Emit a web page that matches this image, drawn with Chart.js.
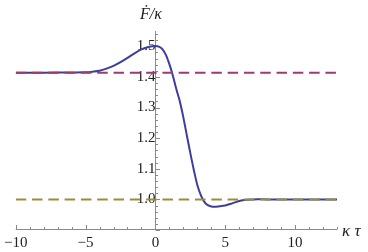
<!DOCTYPE html>
<html>
<head>
<meta charset="utf-8">
<script src="https://cdn.jsdelivr.net/npm/chart.js@4/dist/chart.umd.min.js"></script>
<style>
  html, body { margin: 0; padding: 0; background: #ffffff; }
  #wrap { width: 368px; height: 252px; position: relative; }
</style>
</head>
<body>
<div id="wrap"><canvas id="fluxChart"></canvas></div>
<script>
// kappa*tau samples and the F-dot/kappa curve
const tauValues = [-10, -8, -6, -5, -4.5, -4, -3.5, -3, -2.5, -2, -1.5, -1, -0.5, 0, 0.25, 0.5, 0.75, 1, 1.25, 1.5, 1.75, 2, 2.25, 2.5, 2.75, 3, 3.25, 3.5, 3.75, 4, 4.25, 4.5, 5, 5.5, 6, 6.5, 7, 8, 10, 13];
const fluxValues = [1.414, 1.414, 1.4145, 1.415, 1.417, 1.42, 1.427, 1.436, 1.448, 1.462, 1.477, 1.49, 1.498, 1.501, 1.499, 1.491, 1.472, 1.442, 1.404, 1.36, 1.32, 1.268, 1.209, 1.151, 1.096, 1.047, 1.014, 0.992, 0.981, 0.977, 0.976, 0.977, 0.98, 0.987, 0.995, 0.999, 1.0, 1.0, 1.0, 1.0];

// the two reference levels (dashed)
const levelSpan = [-10, 13];
const upperLevel = 1.414;
const lowerLevel = 1.0;

// tick labels
const xTickLabels = [-10, -5, 0, 5, 10];
const yTickLabels = [1.0, 1.1, 1.2, 1.3, 1.4, 1.5];

document.addEventListener('DOMContentLoaded', () => {
    const serif = '"Liberation Serif", "DejaVu Serif", serif';
    const axisGray = '#8a8a8a';

    // Mathematica style axes: lines crossing at (0, 0.9), inward ticks
    const axisFrame = {
        id: 'axisFrame',
        beforeDatasetsDraw(chart) {
            const { ctx, scales: { x, y } } = chart;
            const ax = Math.round(x.getPixelForValue(0)) + 0.5;
            const ay = Math.round(y.getPixelForValue(0.9)) - 0.5;
            ctx.save();
            ctx.strokeStyle = axisGray;
            ctx.lineWidth = 1;
            ctx.beginPath();
            ctx.moveTo(x.left, ay);
            ctx.lineTo(x.right, ay);
            ctx.moveTo(ax, y.bottom);
            ctx.lineTo(ax, y.top);
            // x ticks, every unit, long on multiples of 5
            for (let v = -10; v <= 13; v++) {
                const px = Math.round(x.getPixelForValue(v)) + 0.5;
                const len = v % 5 === 0 ? 4.5 : 2.5;
                ctx.moveTo(px, ay);
                ctx.lineTo(px, ay - len);
            }
            // y ticks, every 0.02, long on tenths
            for (let i = 0; i <= 32; i++) {
                const v = 0.9 + i * 0.02;
                const py = Math.round(y.getPixelForValue(v)) + 0.5;
                const len = i % 5 === 0 ? 4.5 : 2.5;
                ctx.moveTo(ax, py);
                ctx.lineTo(ax + len, py);
            }
            ctx.stroke();
            ctx.restore();
        },
        afterDraw(chart) {
            const { ctx } = chart;
            ctx.save();
            ctx.fillStyle = '#222222';
            ctx.textBaseline = 'alphabetic';
            ctx.font = 'italic 16px ' + serif;
            ctx.textAlign = 'left';
            ctx.fillText('\u1E1E/\u03BA', 140, 19);
            ctx.font = 'italic 17px ' + serif;
            ctx.fillText('\u03BA \u03C4', 342, 236);
            ctx.restore();
        }
    };

    const levelLine = (value, color) => ({
        data: levelSpan.map(t => ({ x: t, y: value })),
        borderColor: color,
        borderWidth: 2,
        borderDash: [10.5, 5.8],
        pointRadius: 0,
        fill: false
    });

    const ctx = document.getElementById('fluxChart').getContext('2d');
    new Chart(ctx, {
        type: 'line',
        data: {
            datasets: [
                levelLine(upperLevel, '#993d71'),
                levelLine(lowerLevel, '#998c3d'),
                {
                    data: tauValues.map((t, i) => ({ x: t, y: fluxValues[i] })),
                    borderColor: '#3d3d9e',
                    borderWidth: 2,
                    pointRadius: 0,
                    tension: 0.3,
                    fill: false
                }
            ]
        },
        options: {
            responsive: true,
            maintainAspectRatio: false,
            animation: false,
            layout: { padding: { left: 13, right: 31, top: 31, bottom: 22 } },
            plugins: {
                legend: { display: false },
                tooltip: { enabled: false }
            },
            scales: {
                x: {
                    type: 'linear',
                    min: -10,
                    max: 13,
                    position: { y: 0.9 },
                    grid: { display: false, drawTicks: false },
                    border: { display: false },
                    afterBuildTicks: scale => { scale.ticks = xTickLabels.map(v => ({ value: v })); },
                    ticks: {
                        color: '#222222',
                        font: { family: serif, size: 15 },
                        padding: 4,
                        maxRotation: 0,
                        callback: v => (v < 0 ? '\u2212' + Math.abs(v) : String(v))
                    }
                },
                y: {
                    type: 'linear',
                    min: 0.9,
                    max: 1.55,
                    position: { x: 0 },
                    grid: { display: false, drawTicks: false },
                    border: { display: false },
                    afterBuildTicks: scale => { scale.ticks = yTickLabels.map(v => ({ value: v })); },
                    ticks: {
                        color: '#222222',
                        font: { family: serif, size: 15 },
                        padding: 2,
                        callback: v => Number(v).toFixed(1)
                    }
                }
            }
        },
        plugins: [axisFrame]
    });
});
</script>
</body>
</html>
